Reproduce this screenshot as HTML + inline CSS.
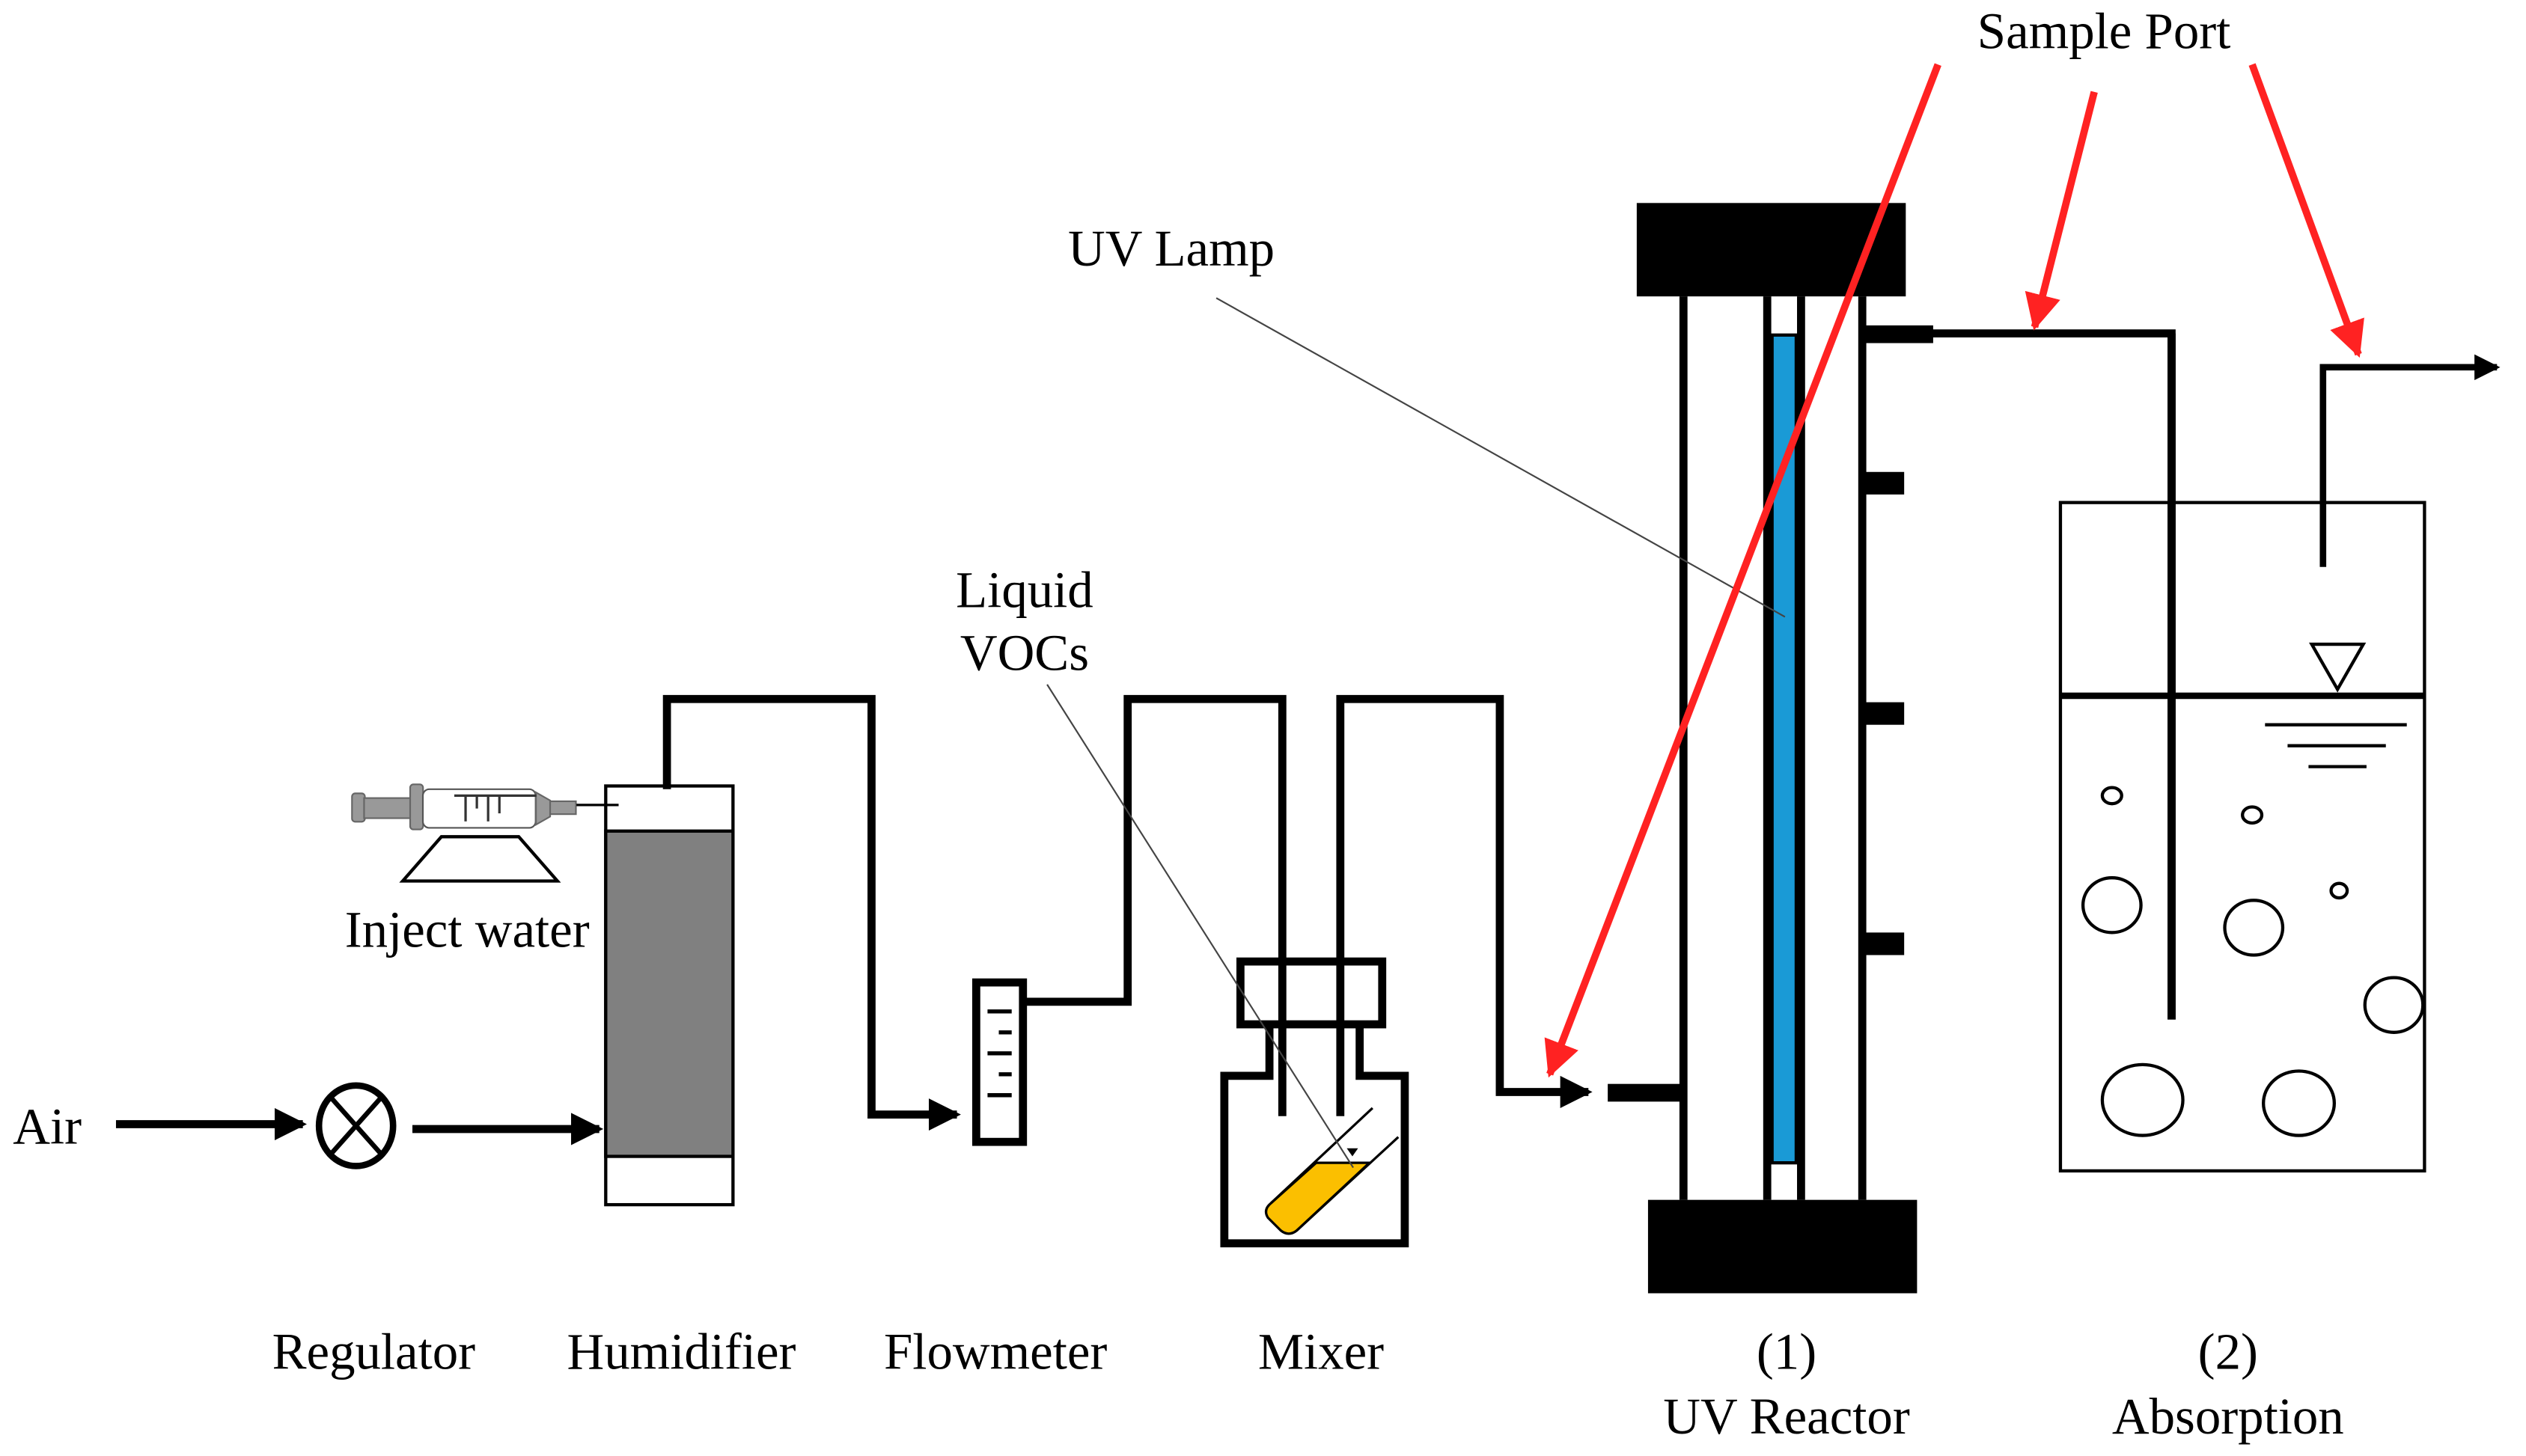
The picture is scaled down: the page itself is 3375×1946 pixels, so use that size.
<!DOCTYPE html>
<html><head><meta charset="utf-8"><style>html,body{margin:0;padding:0;background:#fff}svg{display:block}</style></head><body>
<svg width="3375" height="1946" viewBox="0 0 1568 904" xmlns="http://www.w3.org/2000/svg" font-family="Liberation Serif, serif" font-size="32">
<defs>
<marker id="ab" markerWidth="4" markerHeight="4" refX="3.5" refY="2" orient="auto" markerUnits="strokeWidth"><path d="M0,0 L4,2 L0,4 z" fill="#000"/></marker>
<marker id="ar" markerWidth="5" markerHeight="5" refX="4.5" refY="2.5" orient="auto" markerUnits="strokeWidth"><path d="M0,0 L5,2.5 L0,5 z" fill="#f22"/></marker>
</defs>
<rect width="1568" height="904" fill="#fff"/>
<text x="8" y="710">Air</text>
<line x1="72" y1="698" x2="188" y2="698" stroke="#000" stroke-width="5" marker-end="url(#ab)"/>
<ellipse cx="221" cy="699" rx="23" ry="25" fill="#fff" stroke="#000" stroke-width="4"/>
<line x1="205" y1="681" x2="237" y2="717" stroke="#000" stroke-width="3"/>
<line x1="237" y1="681" x2="205" y2="717" stroke="#000" stroke-width="3"/>
<line x1="256" y1="701" x2="372" y2="701" stroke="#000" stroke-width="5" marker-end="url(#ab)"/>
<rect x="376" y="488" width="79" height="260" fill="#fff" stroke="#000" stroke-width="2"/>
<rect x="376" y="516" width="79" height="202" fill="#808080" stroke="#000" stroke-width="2"/>
<rect x="218.5" y="492.6" width="8" height="17.6" rx="2" fill="#999" stroke="#666"/>
<rect x="226" y="495.5" width="29" height="12.5" fill="#999" stroke="#666"/>
<rect x="254.6" y="487" width="8" height="28" rx="2" fill="#999" stroke="#666"/>
<rect x="262.5" y="490" width="70" height="24" rx="4" fill="#fff" stroke="#555"/>
<path d="M332.7,492 L341.5,497 L341.5,507 L332.7,512 z" fill="#999" stroke="#666"/>
<rect x="341.5" y="497.5" width="16" height="8" fill="#999" stroke="#666"/>
<line x1="357.8" y1="499.8" x2="384" y2="499.8" stroke="#000" stroke-width="1.5"/>
<g stroke="#333" stroke-width="1.5"><line x1="282" y1="494" x2="333" y2="494"/><line x1="289" y1="494" x2="289" y2="510"/><line x1="296" y1="494" x2="296" y2="502"/><line x1="303" y1="494" x2="303" y2="510"/><line x1="310" y1="494" x2="310" y2="505"/></g>
<path d="M274,519.5 L322,519.5 L346,547 L250,547 z" fill="#fff" stroke="#000" stroke-width="2"/>
<text x="290" y="588" text-anchor="middle">Inject water</text>
<g fill="none" stroke="#000" stroke-width="5">
<polyline points="414,490 414,434 541,434 541,692 594,692" marker-end="url(#ab)"/>
<polyline points="635,622 700,622 700,434 796,434 796,692"/>
<polyline points="832,692 832,434 931,434 931,678 986,678" marker-end="url(#ab)"/>
<polyline points="1158,207 1348,207 1348,633"/>
<polyline points="1442,352 1442,228 1550,228" stroke-width="4" marker-end="url(#ab)"/>
</g>
<rect x="606" y="610" width="29" height="99" fill="#fff" stroke="#000" stroke-width="5"/>
<g stroke="#000" stroke-width="2.5"><line x1="613" y1="628" x2="628" y2="628"/><line x1="620" y1="641" x2="628" y2="641"/><line x1="613" y1="654" x2="628" y2="654"/><line x1="620" y1="667" x2="628" y2="667"/><line x1="613" y1="680" x2="628" y2="680"/></g>
<path d="M788,636 L788,668 L760,668 L760,772 L872,772 L872,668 L844,668 L844,636" fill="#fff" stroke="#000" stroke-width="5"/>
<rect x="770" y="597" width="88" height="39" fill="#fff" stroke="#000" stroke-width="5"/>
<line x1="796" y1="597" x2="796" y2="693" stroke="#000" stroke-width="5"/>
<line x1="832" y1="597" x2="832" y2="693" stroke="#000" stroke-width="5"/>
<path d="M817,722 L850,722 L805,764 Q800,768 795,764 L787,756 Q784,751 789,747 z" fill="#fbbf00" stroke="#000" stroke-width="1.5"/>
<line x1="789" y1="747" x2="852" y2="688" stroke="#000" stroke-width="1.5"/>
<line x1="805" y1="764" x2="868" y2="706" stroke="#000" stroke-width="1.5"/>
<path d="M836,713 L843,713 L839.5,718 z" fill="#000"/>
<text x="636" y="377" text-anchor="middle">Liquid</text>
<text x="636" y="416" text-anchor="middle">VOCs</text>
<line x1="650" y1="425" x2="840" y2="725" stroke="#444" stroke-width="1"/>
<rect x="1016" y="126" width="167" height="58" fill="#000"/>
<rect x="1023" y="745" width="167" height="58" fill="#000"/>
<g stroke="#000" stroke-width="5"><line x1="1045" y1="184" x2="1045" y2="745"/><line x1="1097" y1="184" x2="1097" y2="745"/><line x1="1118" y1="184" x2="1118" y2="745"/><line x1="1156" y1="184" x2="1156" y2="745"/></g>
<rect x="1100" y="208" width="15" height="514" fill="#1a9ad6" stroke="#000" stroke-width="2"/>
<rect x="998" y="673" width="45" height="11" fill="#000"/>
<rect x="1158" y="202" width="42" height="11" fill="#000"/>
<rect x="1158" y="293" width="24" height="14" fill="#000"/>
<rect x="1158" y="436" width="24" height="14" fill="#000"/>
<rect x="1158" y="579" width="24" height="14" fill="#000"/>
<text x="663" y="165">UV Lamp</text>
<line x1="755" y1="185" x2="1108" y2="383" stroke="#444" stroke-width="1"/>
<rect x="1279" y="312" width="226" height="415" fill="none" stroke="#000" stroke-width="2"/>
<line x1="1279" y1="432" x2="1505" y2="432" stroke="#000" stroke-width="4"/>
<line x1="1348" y1="207" x2="1348" y2="633" stroke="#000" stroke-width="5"/>
<path d="M1435,400 L1467,400 L1451,428 z" fill="#fff" stroke="#000" stroke-width="2"/>
<g stroke="#000" stroke-width="2"><line x1="1406" y1="450" x2="1494" y2="450"/><line x1="1420" y1="463" x2="1481" y2="463"/><line x1="1433" y1="476" x2="1469" y2="476"/></g>
<g fill="none" stroke="#000" stroke-width="2">
<ellipse cx="1311" cy="494" rx="6" ry="5"/><ellipse cx="1398" cy="506" rx="6" ry="5"/><ellipse cx="1452" cy="553" rx="5" ry="4.5"/>
<ellipse cx="1311" cy="562" rx="18" ry="17"/><ellipse cx="1399" cy="576" rx="18" ry="17"/><ellipse cx="1486" cy="624" rx="18" ry="17"/>
<ellipse cx="1330" cy="683" rx="25" ry="22"/><ellipse cx="1427" cy="685" rx="22" ry="20"/>
</g>
<g stroke="#f22" stroke-width="4.5" fill="none">
<line x1="1203" y1="40" x2="962" y2="667" marker-end="url(#ar)"/>
<line x1="1300" y1="57" x2="1263" y2="203" marker-end="url(#ar)"/>
<line x1="1398" y1="40" x2="1464" y2="220" marker-end="url(#ar)"/>
</g>
<text x="1306" y="30" text-anchor="middle">Sample Port</text>
<text x="232" y="850" text-anchor="middle">Regulator</text>
<text x="423" y="850" text-anchor="middle">Humidifier</text>
<text x="618" y="850" text-anchor="middle">Flowmeter</text>
<text x="820" y="850" text-anchor="middle">Mixer</text>
<text x="1109" y="850" text-anchor="middle">(1)</text>
<text x="1109" y="890" text-anchor="middle">UV Reactor</text>
<text x="1383" y="850" text-anchor="middle">(2)</text>
<text x="1383" y="890" text-anchor="middle">Absorption</text>
</svg>
</body></html>
